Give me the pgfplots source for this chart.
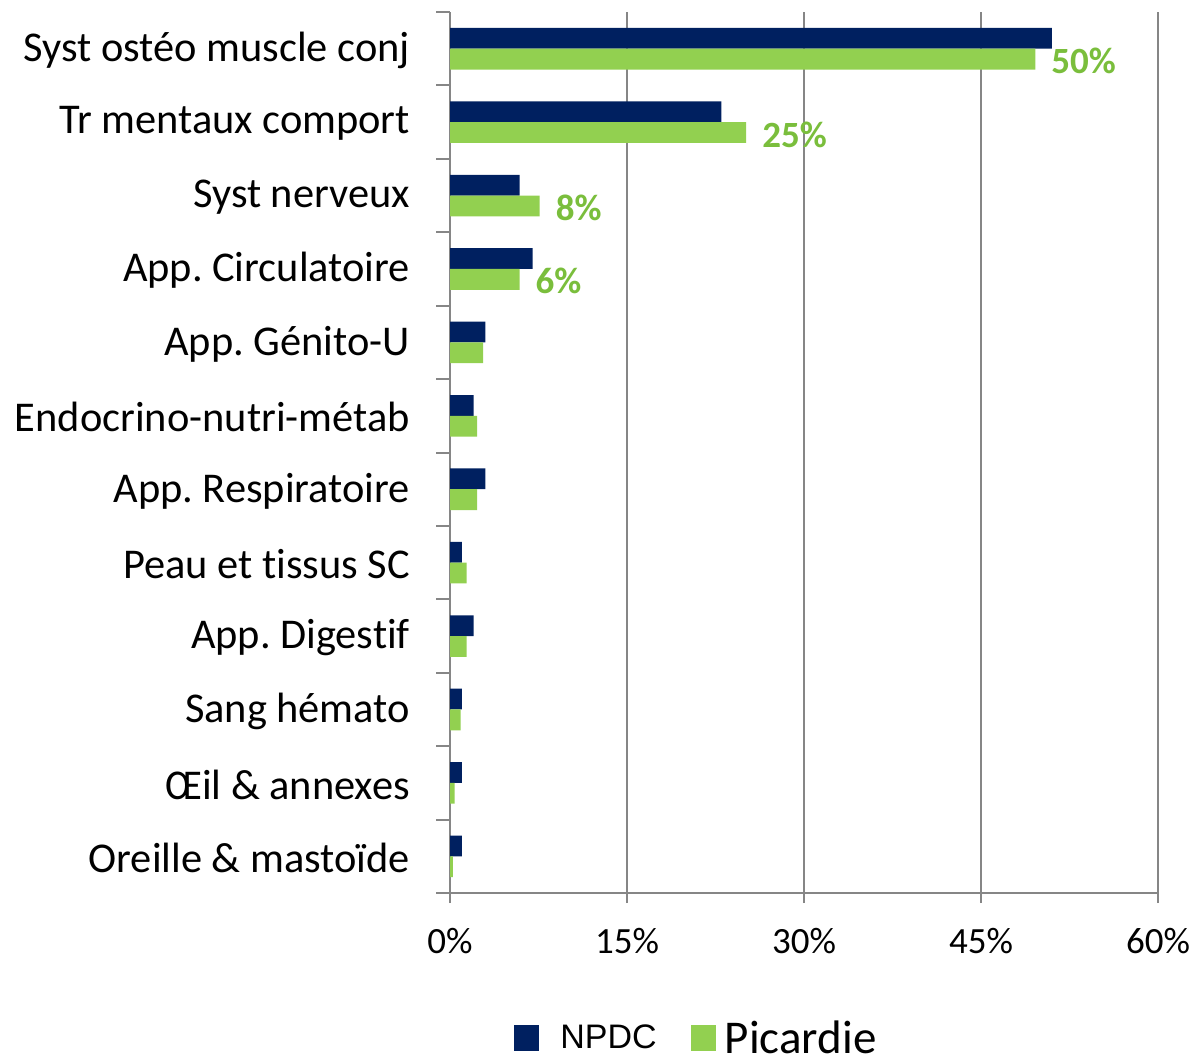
\documentclass[border=0pt]{standalone}
\usepackage{fontspec}
\setmainfont{Carlito}[Ligatures=NoCommon]
\newfontfamily\arialfont{Liberation Sans}
\usepackage{pgfplots}
\pgfplotsset{compat=1.18}
\definecolor{navy}{RGB}{0,32,96}
\definecolor{lgreen}{RGB}{146,208,80}
\definecolor{dgreen}{RGB}{122,190,60}
\definecolor{gridgray}{RGB}{134,134,134}
\frenchspacing
\begin{document}
\begin{tikzpicture}
\path[use as bounding box] (0,0) rectangle (596pt,-530pt);
\begin{axis}[
  at={(225pt,-446.5pt)}, anchor=south west,
  scale only axis, width=354pt, height=440.5pt,
  xbar, bar width=10.4pt,
  xmin=0, xmax=60, ymin=-0.5, ymax=11.5, y dir=reverse,
  xtick={0,15,30,45,60},
  xticklabels={0\%,15\%,30\%,45\%,60\%},
  ytick={0,...,11},
  yticklabels={Syst ostéo muscle conj, Tr mentaux comport, Syst nerveux, App. Circulatoire, App. Génito-U, Endocrino-nutri-métab, App. Respiratoire, Peau et tissus SC, App. Digestif, Sang hémato, Œil \& annexes, Oreille \& mastoïde},
  minor ytick={-0.5,0.5,...,11.5},
  tick align=outside,
  major tick length=5pt, minor tick length=7pt,
  y tick style={draw=none},
  minor y tick style={draw=gridgray, line width=1pt},
  x tick style={draw=gridgray, line width=1pt},
  axis x line*=bottom, axis y line*=left,
  axis line style={draw=gridgray, line width=1pt},
  xmajorgrids, grid style={draw=gridgray, line width=1pt},
  yticklabel style={font=\fontsize{21.2}{24}\selectfont, xshift=-11.5pt, yshift=-0.8pt},
  xticklabel style={font=\fontsize{18.5}{22}\selectfont, yshift=-9pt},
  legend style={at={(0.3495,-0.165)}, anchor=center, draw=none, legend columns=2,
    nodes={inner ysep=0.5pt},
    /tikz/every even column/.append style={column sep=15pt}},
  legend image code/.code={\path[#1] (0pt,-6.5pt) rectangle (12.5pt,6.5pt);},
]
\addplot[fill=navy, draw=none, bar shift=5.2pt] coordinates {
  (51.0,0) (23.0,1) (5.9,2) (7.0,3) (3.0,4) (2.0,5)
  (3.0,6) (1.0,7) (2.0,8) (1.0,9) (1.0,10) (1.0,11)};
\addlegendentry{\arialfont\fontsize{17}{20}\selectfont\hspace{8.5pt}NPDC}
\addplot[fill=lgreen, draw=none, bar shift=-5.2pt,
  nodes near coords, point meta=explicit symbolic,
  nodes near coords style={font=\bfseries\fontsize{18.5}{22}\selectfont, text=dgreen, anchor=west, xshift=4.5pt, yshift=-1pt}]
  coordinates {
  (49.6,0)[50\%] (25.1,1)[25\%] (7.6,2)[8\%] (5.9,3)[6\%] (2.8,4)[] (2.3,5)[]
  (2.3,6)[] (1.4,7)[] (1.4,8)[] (0.9,9)[] (0.4,10)[] (0.25,11)[]};
\addlegendentry{\fontsize{23.5}{26}\selectfont\hspace{2.5pt}Picardie}
\end{axis}
\end{tikzpicture}
\end{document}
